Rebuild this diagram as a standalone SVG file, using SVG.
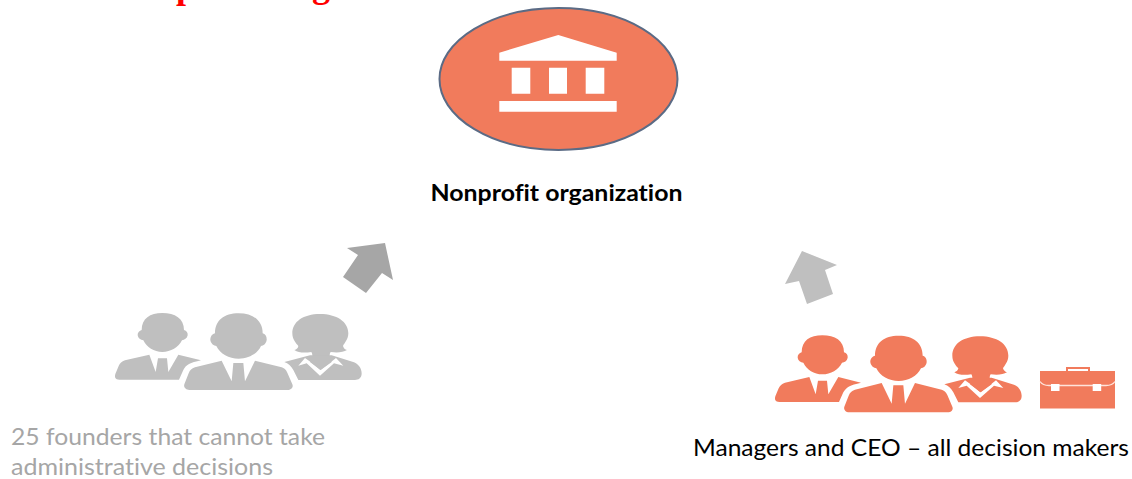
<svg xmlns="http://www.w3.org/2000/svg" xmlns:xlink="http://www.w3.org/1999/xlink" width="1132" height="479" viewBox="0 0 1132 479">
<style>
text{font-variant-ligatures:none}
.lbl{font-family:"Lato","Open Sans",sans-serif;font-size:24px}
.top{font-family:"Liberation Serif",serif;font-size:36px;font-weight:bold;fill:#ff0000}
.gray{fill:#bfbfbf}
.orange{fill:#f17b5c}
</style>
<defs>
<g id="people">
<path d="M125 300C125 265 150 249 187 249C225 249 252 265 252 300C260 302 264 308 263 316C261 326 253 330 246 331C236 352 212 366 187 366C162 366 140 352 130 331C122 330 114 325 113 316C112 308 118 302 125 300Z"/>
<path d="M148 374L75 391C65 394 60 400 56 408L46 432C43 442 46 449 58 449L237 449L250 420C258 405 270 398 303 391L235 374L205 426L201 385L174 385L167 426Z"/>
<path d="M345 310C345 272 372 250 416 250C460 250 488 272 488 310C496 312 501 320 500 330C498 342 490 347 483 348C472 372 445 386 416 386C387 386 360 372 349 348C342 347 333 342 331 330C330 320 337 312 345 310Z"/>
<path d="M365 392L285 412C275 415 270 420 266 430L253 463C250 472 258 480 268 480L562 480C574 480 581 472 577 463L562 428C558 418 552 414 545 412L465 392L435 454L430 399L400 399L395 454Z"/>
<path d="M577 310C577 275 610 252 660 252C710 252 745 275 745 310C745 328 733 340 729 348C731 355 735 358 741 360C730 367 712 369 692 366C688 372 688 380 692 388L695 396L662 420L630 396L635 388C638 380 638 372 634 366C612 369 595 368 583 360C590 358 594 354 595 348C588 340 577 328 577 310Z"/>
<path fill-rule="evenodd" d="M553 396L630 376L695 376L762 397C775 402 785 415 785 430C785 445 775 450 765 450L595 450L580 420C573 408 565 400 553 396ZM595 407L615 384L632 396L661 420L693 396L708 384L730 407L702 400L660 437L620 400Z"/>
</g>
</defs>
<g id="title-fragment">
<text class="top" x="176" y="-2.500">p</text>
<text class="top" x="312" y="-3">g</text>
</g>
<g id="organization">
<ellipse cx="558.500" cy="79" rx="119" ry="71" class="orange" stroke="#5b6b85" stroke-width="2"/>
<path fill="#ffffff" d="M558.300 35L616.700 52.700V60.700H499.300V52.700ZM511.700 67.700H530.300V93.700H511.700ZM549 67.700H567V93.700H549ZM585.700 67.700H604.300V93.700H585.700ZM499.300 101H616.700V111.700H499.300Z"/>
<text x="556.500" y="201" text-anchor="middle" font-family="Lato,'Open Sans',sans-serif" font-size="22" font-weight="bold" fill="#000000" textLength="252" lengthAdjust="spacingAndGlyphs">Nonprofit organization</text>
</g>
<g id="founders">
<use xlink:href="#people" href="#people" class="gray" transform="translate(100,230) scale(.33333)"/>
<text class="lbl" x="11" y="444.500" fill="#a6a6a6" textLength="314" lengthAdjust="spacingAndGlyphs">25 founders that cannot take</text>
<text class="lbl" x="11" y="475" fill="#a6a6a6" textLength="262" lengthAdjust="spacingAndGlyphs">administrative decisions</text>
</g>
<g id="managers">
<use xlink:href="#people" href="#people" class="orange" transform="translate(760,252.300) scale(.33333)"/>
<g id="briefcase">
<rect class="orange" x="1040" y="371" width="75" height="37.500"/>
<path fill="none" stroke="#f17b5c" stroke-width="2" d="M1067 371V368H1089V371"/>
<path fill="none" stroke="#ffe3da" stroke-width="1.300" d="M1040 381.500C1042 384.500 1045 385.500 1049 385.500H1106C1110 385.500 1113 384.500 1115 381.500"/>
<rect x="1051" y="384" width="8.500" height="7" fill="#ffffff"/>
<rect x="1092.700" y="384" width="8.500" height="7" fill="#ffffff"/>
</g>
<text class="lbl" x="693" y="455.500" fill="#000000" textLength="436" lengthAdjust="spacingAndGlyphs">Managers and CEO – all decision makers</text>
</g>
<g id="connectors">
<path fill="#a6a6a6" d="M347 248L385 243L393 280L382 273L366 293L343 277L358 255Z"/>
<path class="gray" d="M802 251L837 265L825 270L833 294L807 304L799 281L785 284Z"/>
</g>
</svg>
